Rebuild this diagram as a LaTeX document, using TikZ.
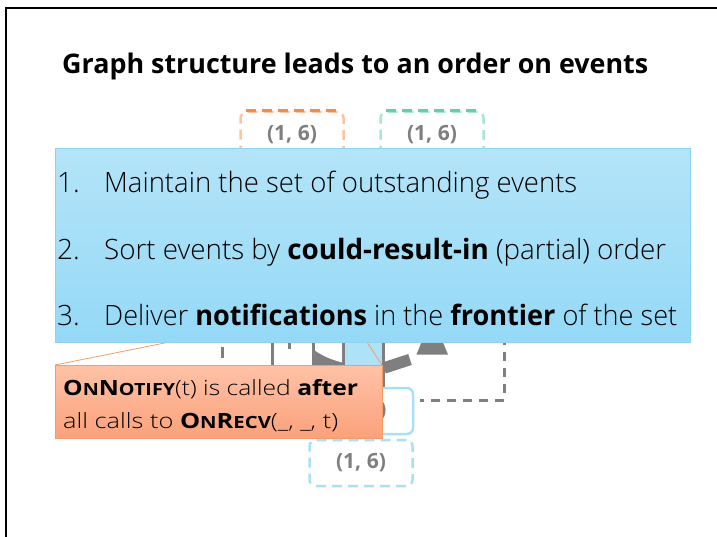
\documentclass[tikz,border=0pt]{standalone}
\usepackage{fontspec}
\usepackage{graphicx}
\setmainfont{Open Sans}
\IfFontExistsTF{Open Sans Light}{\newfontfamily\lightfam{Open Sans Light}}{\newfontfamily\lightfam{Open Sans}}
\IfFontExistsTF{Open Sans SemiBold}{\newfontfamily\headfam{Open Sans SemiBold}}{\newcommand\headfam{\bfseries}}
\newcommand\fsc[1]{\scalebox{0.8}{#1}}
\newcommand\fitw[2]{\resizebox{#1}{\height}{#2}}

\definecolor{slategray}{HTML}{7F7F7F}
\definecolor{listtop}{HTML}{B4E4F8}
\definecolor{listbot}{HTML}{94D9F7}
\definecolor{listedge}{HTML}{8ED4F2}
\definecolor{notetop}{HTML}{FFC2A6}
\definecolor{notebot}{HTML}{FBA17B}
\definecolor{noteedge}{HTML}{F59B63}
\definecolor{tsblue}{HTML}{A8E0F6}
\definecolor{tsfill}{HTML}{AEE3F7}
\definecolor{tsorange}{HTML}{FFC49E}
\definecolor{tsorangedark}{HTML}{FA8A3E}
\definecolor{tsteal}{HTML}{A9E6D5}
\definecolor{tstealdark}{HTML}{5DD3AA}

\begin{document}
\begin{tikzpicture}[x=1pt,y=-1pt,
  stamp/.style={rounded corners=6pt, line width=2.5pt, minimum width=103pt,
    minimum height=46pt, inner sep=0pt, text=slategray,
    font=\bfseries\fontsize{21}{25}\selectfont},
  dashedstamp/.style={stamp, dash pattern=on 10pt off 6pt},
  grayedge/.style={draw=slategray, line width=3pt},
  graydash/.style={grayedge, dash pattern=on 9pt off 7pt},
  itemnum/.style={anchor=base west, inner sep=0pt, font=\lightfam\fontsize{28}{34}\selectfont},
  itemtext/.style={anchor=base west, inner sep=0pt, font=\fontsize{28}{34}\selectfont},
  notetext/.style={anchor=base west, inner sep=0pt, font=\fontsize{21}{25}\selectfont},
  pointer/.style={draw=noteedge, line width=0.8pt}
]
\useasboundingbox (0,0) rectangle (717,537);

% slide frame
\draw[line width=2pt] (6,537) -- (6,8) -- (717,8);

% title
\node[anchor=base west, inner sep=0pt, font=\headfam\fontsize{27}{32}\selectfont] (title) at (62,74)
  {\fitw{586pt}{Graph structure leads to an order on events}};

% timestamp boxes at the top
\node[dashedstamp, draw=tsorange] (evA) at (292,135) {(1, 6)};
\draw[tsorangedark, line width=2.5pt, dash pattern=on 10pt off 6pt]
  ([xshift=7pt]evA.north west) -- ([xshift=-7pt]evA.north east);
\node[dashedstamp, draw=tsteal] (evB) at (432,135) {(1, 6)};
\draw[tstealdark, line width=2.5pt, dash pattern=on 10pt off 6pt]
  ([xshift=7pt]evB.north west) -- ([xshift=-7pt]evB.north east);

% timestamp boxes at the bottom
\node[stamp, draw=tsblue] (evC) at (361.5,411) {(1, 6)};
\node[dashedstamp, draw=tsblue] (evD) at (361,463) {(1, 6)};

% dataflow pieces below the list
\coordinate (dashtop) at (222,300);
\coordinate (dashend) at (222,358);
\draw[graydash, dash pattern=on 11pt off 7pt] (dashend) -- (dashtop);
\coordinate (wireA) at (272,320);
\coordinate (wireAend) at (272,366);
\draw[grayedge] (wireA) -- (wireAend);
\coordinate (tickend) at (289.5,349);
\draw[graydash, dash pattern=on 8pt off 7pt] (tickend) -- (289.5,300);

% outlined stage with shaded lower part
\fill[slategray] (312,320) rectangle (314.5,366);
\fill[slategray] (342,320) rectangle (344.5,366);
\fill[slategray] (314,350) .. controls (322,356) and (332,360) .. (342,362.5) -- (342,366) -- (314,366) -- cycle;

% light blue stage
\fill[tsfill] (344.5,320) rectangle (381.5,366);

% edge into the lower box
\coordinate (wireB) at (383.5,320);
\draw[grayedge] (wireB) -- (wireB |- evC.north);

% feedback arrow
\draw[slategray, line width=11.5pt] (384,368) -- (410,359.5);
\fill[slategray] (432,316) -- (448,354.5) -- (416.5,354.5) -- cycle;

% dashed return path
\coordinate (loopTop) at (504,320);
\coordinate (loopCorner) at (504,400);
\coordinate (loopEnd) at (420,400);
\draw[graydash] (loopTop) -- (loopCorner) -- (loopEnd);

% callout pointer
\coordinate (noteNW) at (55,365);
\coordinate (noteNE) at (382,365);
\coordinate (tip) at (344,307);
\draw[pointer] (noteNW) -- (tip) -- (noteNE);

% list of steps
\node[anchor=north west, draw=listedge, line width=1pt, top color=listtop, bottom color=listbot,
  minimum width=635pt, minimum height=194pt, inner sep=0pt] (steps) at (55,148) {};
\node[itemnum] (n1) at (57,193) {1.};
\node[itemtext] (t1) at (104,193) {\fitw{473pt}{\lightfam Maintain the set of outstanding events}};
\node[itemnum] (n2) at (57,259) {2.};
\node[itemtext] (t2) at (104,259) {\fitw{562pt}{{\lightfam Sort events by }\textbf{could-result-in}{\lightfam\ (partial) order}}};
\node[itemnum] (n3) at (57,325) {3.};
\node[itemtext] (t3) at (104,325) {\fitw{573pt}{{\lightfam Deliver }\textbf{notifications}{\lightfam\ in the }\textbf{frontier}{\lightfam\ of the set}}};

% callout
\node[anchor=north west, draw=noteedge, line width=0.8pt, top color=notetop, bottom color=notebot,
  minimum width=327pt, minimum height=73pt, inner sep=0pt] (note) at (noteNW) {};
\node[notetext] (l1) at (63,395)
  {\fitw{295pt}{\textbf{O\fsc{N}N\fsc{OTIFY}}{\lightfam(t) is called }\textbf{after}}};
\node[notetext] (l2) at (63,428)
  {\fitw{275pt}{{\lightfam all calls to }\textbf{O\fsc{N}R\fsc{ECV}}{\lightfam(\_, \_, t)}}};
\end{tikzpicture}
\end{document}
